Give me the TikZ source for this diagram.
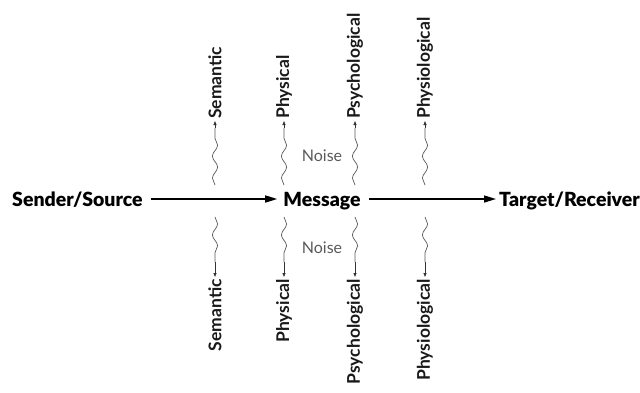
\documentclass[tikz,border=0pt]{standalone}
\usepackage{fontspec}
\setmainfont{Lato}
\newfontfamily\heavyfont{Lato Black}
\usetikzlibrary{decorations.pathmorphing,arrows.meta}
\begin{document}
\begin{tikzpicture}[x=1pt,y=-1pt,
  mainlbl/.style={font=\heavyfont\fontsize{19.5}{19.5}\selectfont, inner sep=0pt, text=black},
  noiselbl/.style={font=\fontsize{17.5}{17.5}\selectfont\bfseries, rotate=90, inner sep=0pt, text=black!90},
  noiseword/.style={font=\fontsize{16}{16}\selectfont, inner sep=0pt, text=black!65},
  flow/.style={-{Triangle[length=12pt,width=7pt]}, line width=1.4pt, black},
  wave/.style={line width=0.7pt, black!65,
    decorate, decoration={snake, amplitude=2.6pt, segment length=22pt}},
  tipline/.style={-{Triangle[length=4pt,width=3pt]}, line width=0.8pt, black!80}]
\useasboundingbox (0,0) rectangle (640,392);
% main row
\node[mainlbl, anchor=base west] (src) at (12,206) {Sender/Source};
\node[mainlbl, anchor=base] (msg) at (322,206) {Message};
\node[mainlbl, anchor=base east] (tgt) at (640,206) {Target/Receiver};
\draw[flow] ([xshift=8pt]src.east |- 0,199) -- ([xshift=-6pt]msg.west |- 0,199);
\draw[flow] ([xshift=8pt]msg.east |- 0,199) -- ([xshift=-3pt]tgt.west |- 0,199);
% top noise
\node[noiselbl, anchor=west] (t1) at (215,119) {Semantic};
\node[noiselbl, anchor=west] (t2) at (284,119) {Physical};
\node[noiselbl, anchor=west] (t3) at (355,119) {Psychological};
\node[noiselbl, anchor=west] (t4) at (425,119) {Physiological};
\foreach \i/\x in {1/215,2/284,3/355,4/425}{
  \coordinate (a\i) at (\x,185);
  \coordinate (m\i) at (\x,128);
  \draw[wave] (a\i) -- (m\i);
  \draw[tipline] (m\i) -- ([yshift=-2pt]t\i.west);
}
\node[noiseword] (n1) at (322,156) {Noise};
% bottom noise
\node[noiselbl, anchor=east] (b1) at (215,279) {Semantic};
\node[noiselbl, anchor=east] (b2) at (284,279) {Physical};
\node[noiselbl, anchor=east] (b3) at (355,279) {Psychological};
\node[noiselbl, anchor=east] (b4) at (425,279) {Physiological};
\foreach \i/\x in {1/215,2/284,3/355,4/425}{
  \coordinate (c\i) at (\x,217);
  \coordinate (d\i) at (\x,262);
  \draw[wave] (c\i) -- (d\i);
  \draw[tipline] (d\i) -- ([yshift=2pt]b\i.east);
}
\node[noiseword] (n2) at (322,248) {Noise};
\end{tikzpicture}
\end{document}
